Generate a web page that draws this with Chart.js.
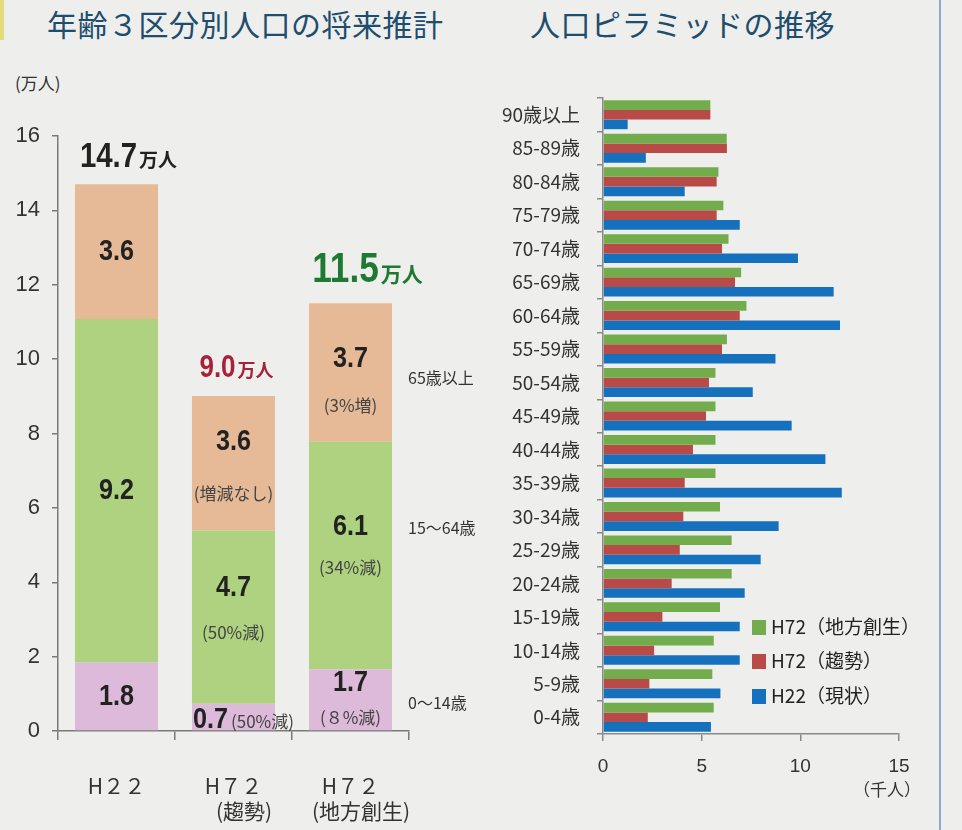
<!DOCTYPE html>
<html><head><meta charset="utf-8">
<script src="https://cdn.jsdelivr.net/npm/chart.js@4.4.1/dist/chart.umd.min.js"></script>
<style>
html,body{margin:0;padding:0;}
body{width:962px;height:830px;background:#EEEFEC;position:relative;overflow:hidden;font-family:'Noto Sans CJK JP',sans-serif;}
canvas{position:absolute;top:0;}
#c1{left:0;}
#c2{left:480px;}
.title{position:absolute;top:1px;font-size:30px;color:#1E4D6E;white-space:nowrap;letter-spacing:0.5px;}
#unit{position:absolute;left:15px;top:70px;font-size:17px;color:#333;}
#edge{position:absolute;left:939px;top:0;width:2px;height:830px;background:#8FAACB;}
#mark{position:absolute;left:0;top:0;width:4px;height:40px;background:#E4DC78;}
</style>
</head><body>
<div id="mark"></div>
<div id="edge"></div>
<div class="title" style="left:47px">年齢３区分別人口の将来推計</div>
<div class="title" style="left:530px">人口ピラミッドの推移</div>
<div id="unit">(万人)</div>
<canvas id="c1" width="480" height="830"></canvas>
<canvas id="c2" width="482" height="830"></canvas>
<script>
// ---- Left chart data (万人) ----
const scenarioLabels = [['H２２'], ['H７２', '\u3000(趨勢)'], ['H７２', '\u3000(地方創生)']];
const ageBands = ['0～14歳', '15～64歳', '65歳以上'];
const young = [1.84, 0.73, 1.66];
const working = [9.24, 4.66, 6.12];
const elderly = [3.62, 3.62, 3.72];
const youngNotes = ['', '(50%減)', '(８%減)'];
const workingNotes = ['', '(50%減)', '(34%減)'];
const elderlyNotes = ['', '(増減なし)', '(3%増)'];
const yTicks = [0, 2, 4, 6, 8, 10, 12, 14, 16];

// ---- Right chart data (千人) ----
const cohorts = ['90歳以上','85-89歳','80-84歳','75-79歳','70-74歳','65-69歳','60-64歳','55-59歳','50-54歳','45-49歳','40-44歳','35-39歳','30-34歳','25-29歳','20-24歳','15-19歳','10-14歳','5-9歳','0-4歳'];
const seriesNames = ['H72（地方創生）', 'H72（趨勢）', 'H22（現状）'];
const h72Sousei = [5.44,6.27,5.85,6.10,6.36,7.00,7.27,6.28,5.70,5.70,5.70,5.70,5.93,6.52,6.52,5.93,5.61,5.54,5.61];
const h72Trend  = [5.44,6.28,5.76,5.76,6.03,6.69,6.93,6.03,5.37,5.22,4.56,4.14,4.07,3.89,3.48,3.01,2.59,2.35,2.27];
const h22       = [1.25,2.17,4.14,6.93,9.88,11.69,12.01,8.74,7.59,9.56,11.27,12.10,8.90,7.99,7.18,6.93,6.93,5.95,5.47];
const xTicks = [0, 5, 10, 15];

// ---- styles ----
const NUM = "'Liberation Sans','Noto Sans',sans-serif";
const JP = "'Noto Sans CJK JP',sans-serif";
const SQ = 0.84; // horizontal condensing of bold numbers
const segOffsets = [ // number dy, note dy, inline
  [{n:0},{n:3,inline:true},{n:-17,t:18}],
  [{n:0},{n:-29,t:15},{n:-29,t:12}],
  [{n:0},{n:-22,t:30},{n:-14,t:33}]
];
const totalStyle = [
  {dx:12, dy:-17, size:35, usize:19, color:'#222222'},
  {dx:3, dy:-19, size:31, usize:18, color:'#A8213A'},
  {dx:17, dy:-21, size:42, usize:21, color:'#1E7A32'}
];
const sideLabel = [{dy:3},{dy:-28},{dy:5}];

function condensed(ctx, txt, x, y, align) {
  // draws text horizontally condensed; align: 'left' | 'center'
  const w = ctx.measureText(txt).width * SQ;
  const left = align === 'center' ? x - w / 2 : x;
  ctx.save();
  ctx.translate(left, y);
  ctx.scale(SQ, 1);
  ctx.textAlign = 'left';
  ctx.fillText(txt, 0, 0);
  ctx.restore();
  return w;
}

const segPlugin = {
  id:'seg',
  afterDatasetsDraw(chart){
    const ctx = chart.ctx;
    const notes = [youngNotes, workingNotes, elderlyNotes];
    chart.data.datasets.forEach((ds, di) => {
      const meta = chart.getDatasetMeta(di);
      meta.data.forEach((bar, j) => {
        const cy = (bar.y + bar.base) / 2;
        const st = segOffsets[di][j];
        const txt = ds.data[j].toFixed(1);
        ctx.save();
        ctx.textBaseline = 'middle';
        ctx.fillStyle = '#222';
        ctx.font = 'bold 30px ' + NUM;
        if (st.inline) {
          const x0 = bar.x - bar.width / 2 + 1;
          const w = condensed(ctx, txt, x0, cy + st.n, 'left');
          ctx.font = '17px ' + JP; ctx.fillStyle = '#444';
          ctx.textAlign = 'left';
          ctx.fillText(notes[di][j], x0 + w + 3, cy + st.n + 1);
        } else {
          condensed(ctx, txt, bar.x, cy + st.n, 'center');
          if (notes[di][j]) {
            ctx.font = '17px ' + JP; ctx.fillStyle = '#444';
            ctx.textAlign = 'center';
            ctx.fillText(notes[di][j], bar.x, cy + st.t);
          }
        }
        ctx.restore();
      });
    });
    // totals
    const topMeta = chart.getDatasetMeta(2);
    topMeta.data.forEach((bar, j) => {
      const total = (young[j] + working[j] + elderly[j]).toFixed(1);
      const s = totalStyle[j];
      ctx.save();
      ctx.textBaseline = 'alphabetic';
      ctx.textAlign = 'left';
      ctx.fillStyle = s.color;
      ctx.font = 'bold ' + s.size + 'px ' + NUM;
      const w1 = ctx.measureText(total).width * SQ;
      ctx.font = 'bold ' + s.usize + 'px ' + JP;
      const w2 = ctx.measureText('万人').width;
      const x0 = bar.x + s.dx - (w1 + w2 + 2) / 2;
      const by = bar.y + s.dy;
      ctx.font = 'bold ' + s.size + 'px ' + NUM;
      condensed(ctx, total, x0, by, 'left');
      ctx.font = 'bold ' + s.usize + 'px ' + JP;
      ctx.fillText('万人', x0 + w1 + 2, by);
      ctx.restore();
    });
    // band labels on the right of last bar
    const last = chart.data.labels.length - 1;
    chart.data.datasets.forEach((ds, di) => {
      const bar = chart.getDatasetMeta(di).data[last];
      const cy = (bar.y + bar.base) / 2;
      ctx.save();
      ctx.font = '16px ' + JP; ctx.fillStyle = '#333';
      ctx.textAlign = 'left'; ctx.textBaseline = 'middle';
      ctx.fillText(ds.label, bar.x + bar.width / 2 + 16, cy + sideLabel[di].dy);
      ctx.restore();
    });
  }
};

new Chart(document.getElementById('c1'), {
  type: 'bar',
  data: {
    labels: scenarioLabels,
    datasets: [
      {label: ageBands[0], data: young, backgroundColor: '#DDBAD9'},
      {label: ageBands[1], data: working, backgroundColor: '#AED27F'},
      {label: ageBands[2], data: elderly, backgroundColor: '#E6BA96'}
    ]
  },
  options: {
    responsive: false, animation: false,
    layout: {padding: {top: 136, right: 71, left: 0, bottom: 0}},
    plugins: {legend: {display: false}, tooltip: {enabled: false}},
    datasets: {bar: {barPercentage: 0.71, categoryPercentage: 1}},
    scales: {
      x: {
        stacked: true,
        grid: {offset: true, drawOnChartArea: false, tickLength: 9, color: '#7a7a7a', lineWidth: 1.5},
        border: {color: '#7a7a7a', width: 1.5},
        ticks: {font: {size: 21, family: JP, lineHeight: 1.2}, color: '#333', padding: 33,
                autoSkip: false, maxRotation: 0, minRotation: 0},
        afterFit(s) { s.height = 99; }
      },
      y: {
        stacked: true, min: 0, max: 16,
        afterBuildTicks(s) { s.ticks = yTicks.map(v => ({value: v})); },
        ticks: {font: {size: 22, family: NUM}, color: '#333', padding: 12},
        grid: {drawOnChartArea: false, tickLength: 6, color: '#7a7a7a', lineWidth: 1.5},
        border: {color: '#7a7a7a', width: 1.5},
        afterFit(s) { s.width = 58; }
      }
    }
  },
  plugins: [segPlugin]
});

const pyrPlugin = {
  id:'pyr',
  afterDraw(chart){
    const ctx = chart.ctx;
    ctx.save();
    // legend
    const lx = 752 - 480, ly = [627, 661, 696];
    chart.data.datasets.forEach((ds, i) => {
      ctx.fillStyle = ds.backgroundColor;
      ctx.fillRect(lx, ly[i] - 7, 14, 15);
      ctx.fillStyle = '#222';
      ctx.font = '19px ' + JP;
      ctx.textAlign = 'left'; ctx.textBaseline = 'middle';
      ctx.fillText(ds.label, lx + 19, ly[i]);
    });
    // unit
    ctx.font = '17px ' + JP; ctx.fillStyle = '#333'; ctx.textAlign = 'center';
    ctx.fillText('（千人）', chart.scales.x.getPixelForValue(15) - 12, 790);
    ctx.restore();
  }
};

new Chart(document.getElementById('c2'), {
  type: 'bar',
  data: {
    labels: cohorts,
    datasets: [
      {label: seriesNames[0], data: h72Sousei, backgroundColor: '#72AC4D'},
      {label: seriesNames[1], data: h72Trend, backgroundColor: '#B84A48'},
      {label: seriesNames[2], data: h22, backgroundColor: '#1570BE'}
    ]
  },
  options: {
    indexAxis: 'y', responsive: false, animation: false,
    layout: {padding: {top: 98, right: 63, left: 0, bottom: 0}},
    plugins: {legend: {display: false}, tooltip: {enabled: false}},
    datasets: {bar: {barPercentage: 1, categoryPercentage: 0.865}},
    scales: {
      x: {
        min: 0, max: 15,
        afterBuildTicks(s) { s.ticks = xTicks.map(v => ({value: v})); },
        grid: {drawOnChartArea: false, tickLength: 7, color: '#8a8a8a', lineWidth: 1.5},
        border: {color: '#8a8a8a', width: 1.5},
        ticks: {font: {size: 19, family: NUM}, color: '#333', padding: 14},
        afterFit(s) { s.height = 96; }
      },
      y: {
        grid: {offset: true, drawOnChartArea: false, tickLength: 6, color: '#8a8a8a', lineWidth: 1.5},
        border: {color: '#8a8a8a', width: 1.5},
        ticks: {font: {size: 19, family: JP}, color: '#333', padding: 17, autoSkip: false},
        afterFit(s) { s.width = 123; }
      }
    }
  },
  plugins: [pyrPlugin]
});
</script>
</body></html>
